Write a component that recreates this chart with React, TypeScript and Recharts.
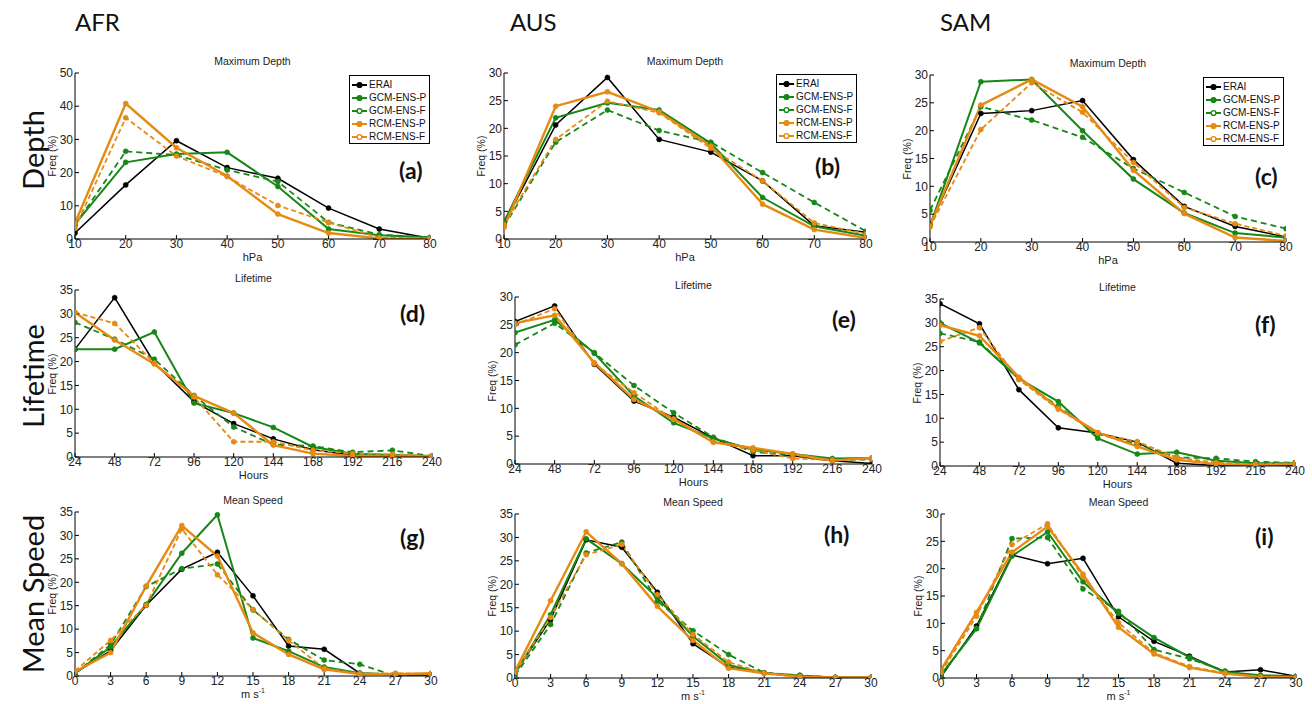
import { LineChart, Line, XAxis, YAxis } from 'recharts';

// series order: ERAI, GCM-ENS-P, GCM-ENS-F, RCM-ENS-P, RCM-ENS-F
const SERIES = ['ERAI', 'GCM-ENS-P', 'GCM-ENS-F', 'RCM-ENS-P', 'RCM-ENS-F'];
const COLORS = ['#000000', '#178717', '#178717', '#e58a13', '#e58a13'];
const DASH = [undefined, undefined, '6 4', undefined, '5 3'];
const WIDTHS = [1.5, 2, 1.8, 2.4, 1.8];

const DEPTH_X = [10, 20, 30, 40, 50, 60, 70, 80];
const LIFE_X = [24, 48, 72, 96, 120, 144, 168, 192, 216, 240];
const SPEED_X = [0, 3, 6, 9, 12, 15, 18, 21, 24, 27, 30];

// (a) AFR depth
const AFR_DEPTH_ERAI = [1.8, 16.3, 29.6, 21.5, 18.3, 9.3, 3.0, 0.2];
const AFR_DEPTH_GCMP = [4.5, 23.1, 25.6, 26.1, 15.8, 3.0, 1.1, 0.5];
const AFR_DEPTH_GCMF = [4.2, 26.4, 25.3, 20.8, 17.3, 5.0, 1.3, 0.4];
const AFR_DEPTH_RCMP = [4.8, 40.8, 27.5, 19.0, 7.5, 1.8, 0.2, 0.0];
const AFR_DEPTH_RCMF = [3.3, 36.5, 25.0, 18.8, 10.1, 5.0, 0.4, 0.2];
// (b) AUS depth
const AUS_DEPTH_ERAI = [2.8, 20.6, 29.2, 18.0, 15.7, 10.5, 2.4, 1.2];
const AUS_DEPTH_GCMP = [3.1, 21.9, 24.6, 23.3, 17.3, 7.5, 2.3, 0.6];
const AUS_DEPTH_GCMF = [2.3, 17.5, 23.3, 19.6, 17.5, 12.0, 6.6, 1.4];
const AUS_DEPTH_RCMP = [2.1, 24.0, 26.6, 23.0, 16.8, 6.3, 1.7, 0.2];
const AUS_DEPTH_RCMF = [2.6, 18.0, 24.9, 22.8, 16.4, 10.5, 2.9, 0.9];
// (c) SAM depth
const SAM_DEPTH_ERAI = [3.0, 23.1, 23.6, 25.4, 14.8, 6.4, 2.8, 0.9];
const SAM_DEPTH_GCMP = [2.9, 28.8, 29.2, 20.0, 11.3, 5.2, 1.6, 0.8];
const SAM_DEPTH_GCMF = [5.7, 24.3, 21.9, 18.8, 13.2, 8.9, 4.6, 2.4];
const SAM_DEPTH_RCMP = [2.9, 24.6, 29.2, 24.3, 12.9, 5.1, 0.8, 0.2];
const SAM_DEPTH_RCMF = [2.7, 20.2, 28.6, 23.3, 14.3, 6.2, 3.3, 1.1];
// (d) AFR lifetime
const AFR_LIFE_ERAI = [22.6, 33.4, 19.7, 11.6, 7.0, 3.8, 1.5, 0.35, 0.2, 0.1];
const AFR_LIFE_GCMP = [22.6, 22.6, 26.2, 11.3, 9.2, 6.2, 2.1, 0.7, 0.4, 0.2];
const AFR_LIFE_GCMF = [28.2, 24.7, 20.5, 12.9, 6.3, 2.6, 2.3, 1.0, 1.4, 0.2];
const AFR_LIFE_RCMP = [30.3, 24.5, 19.5, 12.8, 9.2, 2.5, 0.7, 0.2, 0.1, 0.1];
const AFR_LIFE_RCMF = [30.3, 28.0, 19.7, 12.6, 3.2, 3.2, 1.4, 0.7, 0.6, 0.2];
// (e) AUS lifetime
const AUS_LIFE_ERAI = [25.6, 28.4, 17.9, 11.3, 8.4, 4.7, 1.5, 1.5, 0.6, 0.1];
const AUS_LIFE_GCMP = [23.6, 25.9, 19.9, 12.2, 7.4, 4.6, 2.6, 1.8, 1.0, 1.1];
const AUS_LIFE_GCMF = [21.4, 25.3, 20.0, 14.1, 9.2, 4.8, 2.2, 1.5, 0.7, 0.8];
const AUS_LIFE_RCMP = [25.3, 26.7, 18.2, 11.6, 8.1, 3.9, 2.9, 1.8, 0.6, 1.1];
const AUS_LIFE_RCMF = [25.0, 27.9, 18.0, 12.8, 8.0, 4.0, 2.5, 1.0, 0.7, 0.9];
// (f) SAM lifetime
const SAM_LIFE_ERAI = [34.0, 29.8, 16.0, 8.0, 6.9, 5.0, 0.6, 0.1, 0.1, 0.1];
const SAM_LIFE_GCMP = [30.0, 25.8, 18.3, 13.5, 5.8, 2.5, 2.9, 1.1, 0.6, 0.6];
const SAM_LIFE_GCMF = [27.8, 26.0, 18.3, 12.5, 6.7, 4.6, 1.8, 1.6, 0.9, 0.7];
const SAM_LIFE_RCMP = [29.5, 27.3, 18.6, 12.1, 7.0, 4.1, 1.3, 0.4, 0.2, 0.4];
const SAM_LIFE_RCMF = [26.1, 29.0, 18.1, 11.9, 6.9, 5.1, 1.8, 0.7, 0.35, 0.6];
// (g) AFR mean speed
const AFR_SPEED_ERAI = [0.6, 5.4, 15.1, 22.8, 26.4, 17.1, 6.4, 5.7, 0.6, 0.4, 0.1];
const AFR_SPEED_GCMP = [0.6, 6.2, 15.3, 26.2, 34.4, 8.1, 5.3, 1.9, 0.6, 0.3, 0.4];
const AFR_SPEED_GCMF = [0.5, 6.7, 19.1, 22.9, 23.9, 14.1, 7.8, 3.4, 2.5, 0.0, 0.1];
const AFR_SPEED_RCMP = [0.9, 5.0, 19.2, 32.1, 25.6, 9.2, 4.6, 1.4, 0.4, 0.4, 0.6];
const AFR_SPEED_RCMF = [1.1, 7.6, 15.1, 31.4, 21.6, 14.2, 7.6, 1.6, 0.5, 0.6, 0.4];
// (h) AUS mean speed
const AUS_SPEED_ERAI = [1.1, 12.5, 29.5, 27.9, 18.3, 7.3, 2.3, 1.1, 0.5, 0.1, 0.1];
const AUS_SPEED_GCMP = [0.9, 13.5, 29.7, 24.4, 17.1, 8.9, 2.8, 1.0, 0.5, 0.1, 0.1];
const AUS_SPEED_GCMF = [0.5, 11.4, 26.7, 29.0, 16.4, 10.1, 5.0, 1.1, 0.6, 0.1, 0.1];
const AUS_SPEED_RCMP = [1.4, 16.5, 31.2, 24.4, 15.3, 8.0, 2.1, 1.0, 0.3, 0.1, 0.1];
const AUS_SPEED_RCMF = [1.2, 12.9, 26.3, 28.5, 17.8, 9.3, 3.4, 1.0, 0.2, 0.1, 0.1];
// (i) SAM mean speed
const SAM_SPEED_ERAI = [0.2, 9.5, 22.5, 20.9, 21.9, 11.2, 6.7, 4.0, 1.1, 1.5, 0.3];
const SAM_SPEED_GCMP = [0.6, 9.0, 22.3, 26.7, 17.6, 11.8, 7.4, 3.8, 1.1, 0.5, 0.3];
const SAM_SPEED_GCMF = [0.4, 9.1, 25.5, 25.7, 16.3, 12.2, 5.2, 3.5, 1.3, 0.3, 0.2];
const SAM_SPEED_RCMP = [1.5, 12.0, 23.0, 27.7, 19.0, 9.3, 4.4, 1.9, 0.8, 0.2, 0.1];
const SAM_SPEED_RCMF = [1.0, 11.3, 24.4, 28.2, 18.5, 10.1, 4.6, 2.1, 0.9, 0.2, 0.1];

const AXIS_FONT = '"Liberation Sans", Arial, Helvetica, sans-serif';
const LABEL_FONT = 'Lato, "Open Sans", sans-serif';

const ML = 45, MT = 25, MR = 15, MB = 30;

function buildRows(xs: number[], series: number[][]) {
  return xs.map((x, i) => {
    const row: any = { x };
    series.forEach((s, k) => { row['s' + k] = s[i]; });
    return row;
  });
}

function Legend({ x, y }: { x: number; y: number }) {
  return (
    <div style={{
      position: 'absolute', left: x, top: y, width: 81, height: 69, boxSizing: 'border-box',
      border: '1px solid #000', background: '#fff', padding: '2px 0 0 2px',
      fontFamily: AXIS_FONT, fontSize: 10, color: '#111', whiteSpace: 'nowrap',
    }}>
      {SERIES.map((name, k) => (
        <div key={name} style={{ display: 'flex', alignItems: 'center', height: 13, lineHeight: '13px' }}>
          <svg width={15} height={8} style={{ marginRight: 2, flexShrink: 0 }}>
            <line x1={0} y1={4} x2={15} y2={4} stroke={COLORS[k]} strokeWidth={2} />
            <circle cx={7.5} cy={4} r={2.4} fill={k === 2 || k === 4 ? '#ffffff' : COLORS[k]} stroke={COLORS[k]} strokeWidth={1.4} />
          </svg>
          <span>{name}</span>
        </div>
      ))}
    </div>
  );
}

type PanelProps = {
  rect: [number, number, number, number];
  xs: number[];
  yTicks: number[];
  series: number[][];
  title: string;
  xLabel: any;
  tag: string;
  tagAt: [number, number];
  legendAt?: [number, number];
};

function Panel({ rect, xs, yTicks, series, title, xLabel, tag, tagAt, legendAt }: PanelProps) {
  const [L, T, R, B] = rect;
  const w = R - L + ML + MR;
  const h = B - T + MT + MB;
  const data = buildRows(xs, series);
  const xDomain = [xs[0], xs[xs.length - 1]];
  const yDomain = [0, yTicks[yTicks.length - 1]];
  const tickStyle = { fontSize: 12, fill: '#222', fontFamily: AXIS_FONT };
  return (
    <>
      <div style={{ position: 'absolute', left: L - ML, top: T - MT }}>
        <LineChart width={w} height={h} data={data} margin={{ top: MT, right: MR, bottom: 0, left: 0 }}>
          <XAxis xAxisId={0} dataKey="x" type="number" domain={xDomain} ticks={xs} interval={0}
            allowDataOverflow height={MB} tickSize={-4} tickMargin={4} tick={tickStyle}
            axisLine={{ stroke: '#000' }} tickLine={{ stroke: '#000' }} />
          <XAxis xAxisId="top" orientation="top" dataKey="x" type="number" domain={xDomain} ticks={xs}
            interval={0} allowDataOverflow height={0} tickSize={-4} tick={false}
            axisLine={{ stroke: '#000' }} tickLine={{ stroke: '#000' }} />
          <YAxis yAxisId={0} type="number" domain={yDomain} ticks={yTicks} interval={0} allowDataOverflow
            width={ML} tickSize={-4} tickMargin={6} tick={tickStyle}
            axisLine={{ stroke: '#000' }} tickLine={{ stroke: '#000' }} />
          <YAxis yAxisId="right" orientation="right" type="number" domain={yDomain} ticks={yTicks} interval={0}
            allowDataOverflow width={0} tickSize={-4} tick={false}
            axisLine={{ stroke: '#000' }} tickLine={{ stroke: '#000' }} />
          {series.map((_, k) => (
            <Line key={k} xAxisId={0} yAxisId={0} dataKey={'s' + k} name={SERIES[k]} type="linear"
              stroke={COLORS[k]} strokeWidth={WIDTHS[k]} strokeDasharray={DASH[k]}
              dot={{ r: 2.5, fill: COLORS[k], stroke: COLORS[k], strokeWidth: 0.6, strokeDasharray: 'none' }}
              activeDot={false} isAnimationActive={false} />
          ))}
        </LineChart>
      </div>
      <div style={{
        position: 'absolute', left: L, width: R - L, top: T - 18, textAlign: 'center',
        fontFamily: AXIS_FONT, fontSize: 10.5, lineHeight: '12px', color: '#222',
      }}>{title}</div>
      <div style={{
        position: 'absolute', left: L, width: R - L, top: B + 12, textAlign: 'center',
        fontFamily: AXIS_FONT, fontSize: 11, lineHeight: '12px', color: '#222',
      }}>{xLabel}</div>
      <div style={{
        position: 'absolute', left: L - 23, top: (T + B) / 2, transform: 'translate(-50%, -50%) rotate(-90deg)',
        whiteSpace: 'nowrap', fontFamily: AXIS_FONT, fontSize: 10.5, lineHeight: '11px', color: '#222',
      }}>Freq (%)</div>
      <div style={{
        position: 'absolute', left: tagAt[0], top: tagAt[1] - 2, fontFamily: LABEL_FONT,
        fontWeight: 700, fontSize: 23, lineHeight: '24px', color: '#111',
      }}>{tag}</div>
      {legendAt && <Legend x={legendAt[0]} y={legendAt[1]} />}
    </>
  );
}

const speedLabel = <span>m s<sup style={{ fontSize: 7, lineHeight: 0 }}>-1</sup></span>;

export default function App() {
  const colTitle = { position: 'absolute' as const, top: 8, fontFamily: LABEL_FONT, fontSize: 24, lineHeight: '28px', color: '#111' };
  const rowTitle = (cy: number) => ({
    position: 'absolute' as const, left: 33, top: cy, transform: 'translate(-50%, -50%) rotate(-90deg)',
    whiteSpace: 'nowrap' as const, fontFamily: LABEL_FONT, fontSize: 29, lineHeight: '32px', color: '#111',
  });
  return (
    <div style={{ position: 'absolute', left: 0, top: 0, width: 1312, height: 704, background: '#fff', overflow: 'hidden' }}>
      <div style={{ ...colTitle, left: 75 }}>AFR</div>
      <div style={{ ...colTitle, left: 510 }}>AUS</div>
      <div style={{ ...colTitle, left: 940 }}>SAM</div>
      <div style={rowTitle(150)}>Depth</div>
      <div style={rowTitle(376)}>Lifetime</div>
      <div style={rowTitle(594)}>Mean Speed</div>

      <Panel rect={[75, 73, 430, 239]} xs={DEPTH_X} yTicks={[0, 10, 20, 30, 40, 50]}
        series={[AFR_DEPTH_ERAI, AFR_DEPTH_GCMP, AFR_DEPTH_GCMF, AFR_DEPTH_RCMP, AFR_DEPTH_RCMF]}
        title="Maximum Depth" xLabel="hPa" tag="(a)" tagAt={[399, 160]} legendAt={[349, 75]} />
      <Panel rect={[504, 73, 866, 239]} xs={DEPTH_X} yTicks={[0, 5, 10, 15, 20, 25, 30]}
        series={[AUS_DEPTH_ERAI, AUS_DEPTH_GCMP, AUS_DEPTH_GCMF, AUS_DEPTH_RCMP, AUS_DEPTH_RCMF]}
        title="Maximum Depth" xLabel="hPa" tag="(b)" tagAt={[815, 156]} legendAt={[776, 74]} />
      <Panel rect={[930, 75, 1286, 242]} xs={DEPTH_X} yTicks={[0, 5, 10, 15, 20, 25, 30]}
        series={[SAM_DEPTH_ERAI, SAM_DEPTH_GCMP, SAM_DEPTH_GCMF, SAM_DEPTH_RCMP, SAM_DEPTH_RCMF]}
        title="Maximum Depth" xLabel="hPa" tag="(c)" tagAt={[1255, 166]} legendAt={[1203, 77]} />

      <Panel rect={[75, 290, 432, 457]} xs={LIFE_X} yTicks={[0, 5, 10, 15, 20, 25, 30, 35]}
        series={[AFR_LIFE_ERAI, AFR_LIFE_GCMP, AFR_LIFE_GCMF, AFR_LIFE_RCMP, AFR_LIFE_RCMF]}
        title="Lifetime" xLabel="Hours" tag="(d)" tagAt={[400, 303]} />
      <Panel rect={[515, 297, 872, 464]} xs={LIFE_X} yTicks={[0, 5, 10, 15, 20, 25, 30]}
        series={[AUS_LIFE_ERAI, AUS_LIFE_GCMP, AUS_LIFE_GCMF, AUS_LIFE_RCMP, AUS_LIFE_RCMF]}
        title="Lifetime" xLabel="Hours" tag="(e)" tagAt={[832, 309]} />
      <Panel rect={[940, 299, 1295, 466]} xs={LIFE_X} yTicks={[0, 5, 10, 15, 20, 25, 30, 35]}
        series={[SAM_LIFE_ERAI, SAM_LIFE_GCMP, SAM_LIFE_GCMF, SAM_LIFE_RCMP, SAM_LIFE_RCMF]}
        title="Lifetime" xLabel="Hours" tag="(f)" tagAt={[1255, 314]} />

      <Panel rect={[75, 512, 431, 676]} xs={SPEED_X} yTicks={[0, 5, 10, 15, 20, 25, 30, 35]}
        series={[AFR_SPEED_ERAI, AFR_SPEED_GCMP, AFR_SPEED_GCMF, AFR_SPEED_RCMP, AFR_SPEED_RCMF]}
        title="Mean Speed" xLabel={speedLabel} tag="(g)" tagAt={[400, 527]} />
      <Panel rect={[515, 514, 871, 678]} xs={SPEED_X} yTicks={[0, 5, 10, 15, 20, 25, 30, 35]}
        series={[AUS_SPEED_ERAI, AUS_SPEED_GCMP, AUS_SPEED_GCMF, AUS_SPEED_RCMP, AUS_SPEED_RCMF]}
        title="Mean Speed" xLabel={speedLabel} tag="(h)" tagAt={[824, 524]} />
      <Panel rect={[941, 514, 1296, 678]} xs={SPEED_X} yTicks={[0, 5, 10, 15, 20, 25, 30]}
        series={[SAM_SPEED_ERAI, SAM_SPEED_GCMP, SAM_SPEED_GCMF, SAM_SPEED_RCMP, SAM_SPEED_RCMF]}
        title="Mean Speed" xLabel={speedLabel} tag="(i)" tagAt={[1255, 526]} />
    </div>
  );
}
